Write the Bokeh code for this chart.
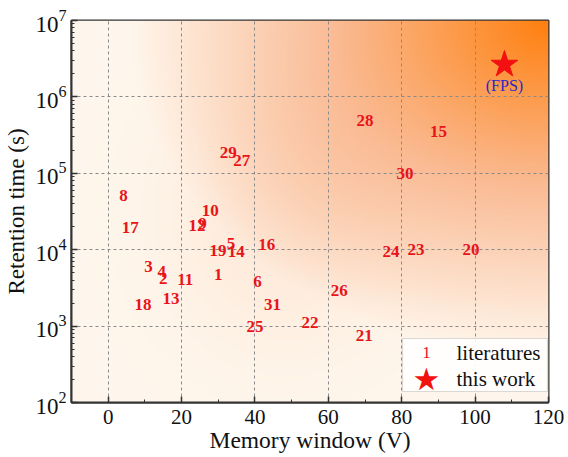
import numpy as np
from bokeh.plotting import figure
from bokeh.models import (ColumnDataSource, FixedTicker, LogTickFormatter, BoxAnnotation,
                          Label, Range1d)
from bokeh.core.properties import value
from bokeh.embed import file_html
from bokeh.resources import INLINE

# ---- data ----
ref_ids = ["1", "2", "3", "4", "5", "6", "8", "9", "10", "11", "12", "13", "14", "15", "16",
           "17", "18", "19", "20", "21", "22", "23", "24", "25", "26", "27", "28", "29", "30", "31"]
mem_window = [30.0, 15.0, 11.0, 14.6, 33.5, 40.7, 4.2, 25.7, 27.8, 21.0, 24.2, 17.1, 34.9, 90.0, 43.2,
              6.0, 9.5, 29.9, 98.9, 69.8, 55.0, 83.9, 77.1, 40.0, 63.0, 36.4, 70.0, 32.7, 80.9, 44.8]
ret_time = [4.8e3, 4.2e3, 6.1e3, 5.2e3, 1.22e4, 3.8e3, 5.1e4, 2.2e4, 3.3e4, 4.1e3, 2.07e4, 2.3e3, 9.6e3,
            3.5e5, 1.17e4, 1.94e4, 1.9e3, 9.8e3, 1.0e4, 7.5e2, 1.12e3, 1.0e4, 9.6e3, 1.0e3, 2.9e3,
            1.47e5, 4.9e5, 1.9e5, 1.0e5, 1.9e3]

this_work_x = [108.0]
this_work_y = [2.65e6]
this_work_name = ["(FPS)"]

x_ticks = [0, 20, 40, 60, 80, 100, 120]
x_minor = [-10, 10, 30, 50, 70, 90, 110]
y_ticks = [1e2, 1e3, 1e4, 1e5, 1e6, 1e7]
y_minor = [k * 10.0 ** e for e in range(2, 7) for k in range(2, 10)]

X0, X1 = -10, 120
Y0, Y1 = 1e2, 1e7

SERIF = value("Liberation Serif")

p = figure(frame_width=477, frame_height=382, x_range=Range1d(X0, X1), y_range=Range1d(Y0, Y1),
           y_axis_type="log", output_backend="svg", toolbar_location=None,
           min_border_left=71, min_border_right=16, min_border_top=20, min_border_bottom=54)
p.background_fill_color = "white"
p.border_fill_color = "white"
p.outline_line_color = "#333333"
p.outline_line_width = 2

# ---- background gradient (decoration) ----
nx, ny = 260, 220
TX, TY = np.meshgrid(np.linspace(0, 1, nx), np.linspace(0, 1, ny))
d = np.sqrt((1 - TX) ** 2 + (1 - TY) ** 2)
f = np.clip(1 - d / 0.88, 0, 1)
f = f + 0.12 * np.exp(-((TX - 0.45) ** 2 / 0.06 + (TY - 0.5) ** 2 / 0.12))
f = np.clip(f, 0, 1)
stops = [0.0, 0.5, 1.0]
R = np.interp(f, stops, [255, 250, 255])
G = np.interp(f, stops, [247, 188, 128])
B = np.interp(f, stops, [237, 150, 15])
img = np.empty((ny, nx), dtype=np.uint32)
view = img.view(dtype=np.uint8).reshape((ny, nx, 4))
view[..., 0] = R.astype(np.uint8)
view[..., 1] = G.astype(np.uint8)
view[..., 2] = B.astype(np.uint8)
view[..., 3] = 255
p.image_rgba(image=[img], x=X0, y=Y0, dw=X1 - X0, dh=Y1 - Y0, level="image")

# ---- grid ----
p.grid.grid_line_color = "#8a8a8a"
p.grid.grid_line_dash = "3 3"
p.grid.grid_line_width = 1

# ---- axes ----
p.xaxis.ticker = FixedTicker(ticks=x_ticks, minor_ticks=x_minor)
p.yaxis.ticker = FixedTicker(ticks=y_ticks, minor_ticks=y_minor)
p.yaxis.formatter = LogTickFormatter()
for ax in (p.xaxis[0], p.yaxis[0]):
    ax.axis_line_color = "#333333"
    ax.axis_line_width = 2
    ax.major_tick_in = 6
    ax.major_tick_out = 0
    ax.minor_tick_in = 3
    ax.minor_tick_out = 0
    ax.major_tick_line_color = "#333333"
    ax.minor_tick_line_color = "#333333"
    ax.major_tick_line_width = 1.5
    ax.major_label_text_font = "Liberation Serif"
    ax.major_label_text_color = "#111111"
    ax.axis_label_text_font = "Liberation Serif"
    ax.axis_label_text_font_style = "normal"
    ax.axis_label_text_color = "#111111"
p.xaxis.major_label_text_font_size = "21px"
p.yaxis.major_label_text_font_size = "23px"
p.xaxis.axis_label_text_font_size = "23.5px"
p.yaxis.axis_label_text_font_size = "23px"
p.xaxis.axis_label = "Memory window (V)"
p.yaxis.axis_label = "Retention time (s)"
p.xaxis.major_label_standoff = 7
p.xaxis.axis_label_standoff = 0
p.yaxis.major_label_standoff = 5
p.yaxis.axis_label_standoff = 3

# ---- literature labels ----
src = ColumnDataSource(dict(x=mem_window, y=ret_time, t=ref_ids))
p.text(x="x", y="y", text="t", source=src, text_color="#E8141A", text_font=SERIF,
       text_font_style="bold", text_font_size="17px", text_align="center",
       text_baseline="middle")

# ---- this work ----
src2 = ColumnDataSource(dict(x=this_work_x, y=this_work_y, t=this_work_name))
p.scatter(x="x", y="y", source=src2, marker="star", size=28, fill_color="#F21010",
          line_color="#F21010")
p.text(x="x", y="y", text="t", source=src2, text_color="#2828C8", text_font=SERIF,
       text_font_size="16px", text_align="center", text_baseline="middle", y_offset=21)

# ---- legend (drawn by hand, frame screen units) ----
p.add_layout(BoxAnnotation(left=331, right=476, bottom=11, top=64,
                           left_units="screen", right_units="screen",
                           top_units="screen", bottom_units="screen",
                           fill_color="white", fill_alpha=0.9,
                           line_color="#8c8c8c", line_width=1.2, level="annotation"))
p.add_layout(Label(x=355, y=50, x_units="screen", y_units="screen", text="1",
                   text_color="#E8141A", text_font="Liberation Serif", text_font_size="17px",
                   text_align="center", text_baseline="middle"))
p.add_layout(Label(x=355, y=24, x_units="screen", y_units="screen", text="\u2605",
                   text_color="#F21010", text_font="DejaVu Sans", text_font_size="31px",
                   text_align="center", text_baseline="middle"))
p.add_layout(Label(x=385, y=50, x_units="screen", y_units="screen", text="literatures",
                   text_color="#111111", text_font="Liberation Serif", text_font_size="21px",
                   text_align="left", text_baseline="middle"))
p.add_layout(Label(x=385, y=24, x_units="screen", y_units="screen", text="this work",
                   text_color="#111111", text_font="Liberation Serif", text_font_size="21px",
                   text_align="left", text_baseline="middle"))

open("out.html", "w").write(file_html(p, INLINE))
